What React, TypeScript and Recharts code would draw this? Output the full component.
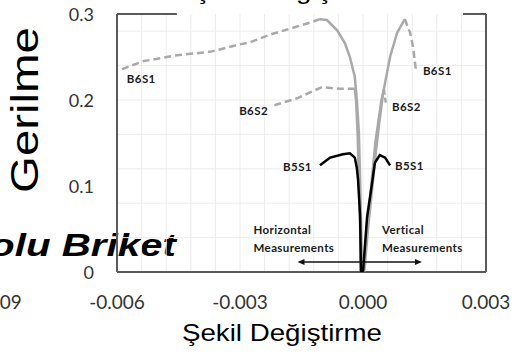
import React from "react";
import {
  ComposedChart,
  Line,
  XAxis,
  YAxis,
  ReferenceLine,
  ReferenceDot,
  Customized,
} from "recharts";

// ---- tick values / labels ----
const xTicks = [-0.009, -0.006, -0.003, 0, 0.003];
const xTickLabels = ["-0.009", "-0.006", "-0.003", "0.000", "0.003"];
const yTicks = [0, 0.1, 0.2, 0.3];
const yTickLabels = ["0", "0.1", "0.2", "0.3"];
const innerGridX = [-0.0054, -0.0048, -0.0042, -0.0036, -0.003, -0.0024, -0.0018, -0.0012, -0.0006, 0, 0.0006, 0.0012, 0.0018, 0.0024];
const innerGridY = [0.04, 0.08, 0.12, 0.16, 0.2, 0.24, 0.28];

// ---- series (strain, stress) ----
const b6s1LeftSolidX = [-0.00002, -0.00005, -0.00007, -0.0001, -0.00015, -0.0002, -0.00032, -0.00044, -0.00063, -0.00088, -0.00105];
const b6s1LeftSolidY = [0, 0.06, 0.107, 0.162, 0.2, 0.227, 0.25, 0.266, 0.281, 0.293, 0.294];
const b6s1LeftDashX = [-0.00105, -0.00129, -0.00178, -0.00227, -0.00276, -0.00307, -0.00373, -0.00454, -0.00537, -0.00593];
const b6s1LeftDashY = [0.294, 0.29, 0.283, 0.276, 0.267, 0.264, 0.256, 0.252, 0.245, 0.235];

const b6s1RightSolidX = [0.00003, 0.00012, 0.00022, 0.00032, 0.00039, 0.00049, 0.00066, 0.00083, 0.00102];
const b6s1RightSolidY = [0, 0.049, 0.095, 0.142, 0.171, 0.208, 0.25, 0.278, 0.294];
const b6s1RightDashX = [0.00102, 0.00115, 0.00122, 0.00129];
const b6s1RightDashY = [0.294, 0.278, 0.262, 0.235];

const b6s2LeftSolidX = [-0.00005, -0.00007, -0.0001, -0.00013, -0.00017, -0.0002];
const b6s2LeftSolidY = [0, 0.05, 0.107, 0.16, 0.2, 0.213];
const b6s2LeftDashX = [-0.0002, -0.00056, -0.001, -0.00161, -0.00222];
const b6s2LeftDashY = [0.213, 0.213, 0.215, 0.202, 0.193];

const b6s2RightSolidX = [0.00001, 0.0001, 0.0002, 0.0003, 0.00045, 0.00051];
const b6s2RightSolidY = [0, 0.05, 0.1, 0.15, 0.2, 0.212];
const b6s2RightDashX = [0.00051, 0.00056];
const b6s2RightDashY = [0.212, 0.195];

const b5s1LeftX = [-0.00005, -0.00007, -0.00012, -0.00015, -0.0002, -0.00032, -0.00049, -0.0008, -0.00105];
const b5s1LeftY = [0, 0.064, 0.107, 0.121, 0.133, 0.138, 0.137, 0.133, 0.124];
const b5s1RightX = [0, 0.0001, 0.00022, 0.00029, 0.00041, 0.00054, 0.00066];
const b5s1RightY = [0, 0.064, 0.103, 0.127, 0.136, 0.133, 0.124];

const arrowX = [-0.0015, 0.00134];
const arrowY = [0.0116, 0.0116];

const zip = (xs: number[], ys: number[]) => xs.map((x, i) => ({ x, y: ys[i] }));
const last = (a: number[]) => a[a.length - 1];

const GRAY = "#a9a9a9";
const FRAME = "#5a5a5a";
const SHIFT = 120; // chart svg starts this many px left of the page edge
const LBL = { fontFamily: "Lato, 'Open Sans', sans-serif", fontWeight: 700, fontSize: 11.5, fill: "#1a1a1a", letterSpacing: 0.4 } as const;

const dotLabel = (text: string, dx: number, dy: number, anchor: "start" | "end" = "start") =>
  (p: any) => (
    <text x={p.cx + dx} y={p.cy + dy} textAnchor={anchor} {...LBL}>
      {text}
    </text>
  );

const ArrowDot = (p: any) => {
  const { cx, cy, index } = p;
  const d = index === 0 ? -1 : 1;
  return <path key={index} d={`M${cx + d * 4},${cy} L${cx - d * 3},${cy - 3} L${cx - d * 3},${cy + 3} Z`} fill="#111" />;
};

const SANS = "'Liberation Sans', Arial, sans-serif";

const Texts = () => (
  <g>
    <text x={293 + SHIFT} y={-1} textAnchor="middle" fontFamily={SANS} fontSize={24} textLength={200} lengthAdjust="spacingAndGlyphs" fill="#000">
      Şekil Değiştirme
    </text>
    <text x={282 + SHIFT} y={341} textAnchor="middle" fontFamily={SANS} fontSize={24} textLength={200} lengthAdjust="spacingAndGlyphs" fill="#000">
      Şekil Değiştirme
    </text>
    <text x={38 + SHIFT} y={110} transform={`rotate(-90 ${38 + SHIFT} 110)`} textAnchor="middle" fontFamily={SANS} fontSize={39} textLength={166} lengthAdjust="spacingAndGlyphs" fill="#000">
      Gerilme
    </text>
    <text x={0} y={0} transform={`translate(${-39 + SHIFT} 256) scale(1.26 1)`} textAnchor="start" fontFamily={SANS} fontWeight={700} fontStyle="italic" fontSize={32} fill="#000">
      Dolu Briket
    </text>
  </g>
);

export default function App() {
  const lineProps = { dataKey: "y", dot: false, activeDot: false, isAnimationActive: false, type: "linear" as const };
  return (
    <div style={{ position: "absolute", left: -SHIFT, top: 0, width: 514 + SHIFT, height: 355, background: "#fff" }}>
      <ComposedChart width={514 + SHIFT} height={355} margin={{ top: 14, right: 28, bottom: 53, left: 14 }}>
        <XAxis
          type="number"
          dataKey="x"
          domain={[-0.009, 0.003]}
          ticks={xTicks}
          allowDataOverflow
          axisLine={false}
          tickLine={false}
          height={30}
          interval={0}
          tick={(p: any) => (
            <text x={p.x} y={309} textAnchor="middle" fontFamily="Lato, 'Open Sans', sans-serif" fontSize={19} fill="#333">
              {xTickLabels[xTicks.indexOf(p.payload.value)]}
            </text>
          )}
        />
        <YAxis
          type="number"
          domain={[0, 0.3]}
          ticks={yTicks}
          width={100}
          axisLine={false}
          tickLine={false}
          interval={0}
          tick={(p: any) => (
            <text x={94 + SHIFT} y={p.y + 7} textAnchor="end" fontFamily="Lato, 'Open Sans', sans-serif" fontSize={18} fill="#333">
              {yTickLabels[yTicks.indexOf(p.payload.value)]}
            </text>
          )}
        />
        {innerGridX.map((v) => (
          <ReferenceLine key={"gx" + v} x={v} stroke="#ececec" strokeWidth={1} />
        ))}
        {innerGridY.map((v) => (
          <ReferenceLine key={"gy" + v} segment={[{ x: -0.006, y: v }, { x: 0.003, y: v }]} stroke="#ececec" strokeWidth={1} />
        ))}
        <ReferenceLine x={-0.006} stroke={FRAME} strokeWidth={2} />
        <ReferenceLine x={0.003} stroke={FRAME} strokeWidth={2} />
        <ReferenceLine segment={[{ x: -0.006, y: 0 }, { x: 0.003, y: 0 }]} stroke={FRAME} strokeWidth={2} />
        <ReferenceLine segment={[{ x: -0.006, y: 0.3 }, { x: -0.00454, y: 0.3 }]} stroke={FRAME} strokeWidth={2} />
        <ReferenceLine segment={[{ x: 0.00244, y: 0.3 }, { x: 0.003, y: 0.3 }]} stroke={FRAME} strokeWidth={2} />

        <Line {...lineProps} data={zip(b6s1LeftSolidX, b6s1LeftSolidY)} stroke={GRAY} strokeWidth={2.5} />
        <Line {...lineProps} data={zip(b6s1LeftDashX, b6s1LeftDashY)} stroke={GRAY} strokeWidth={2.5} strokeDasharray="7 4" />
        <Line {...lineProps} data={zip(b6s1RightSolidX, b6s1RightSolidY)} stroke={GRAY} strokeWidth={2.5} />
        <Line {...lineProps} data={zip(b6s1RightDashX, b6s1RightDashY)} stroke={GRAY} strokeWidth={2.5} strokeDasharray="7 4" />
        <Line {...lineProps} data={zip(b6s2LeftSolidX, b6s2LeftSolidY)} stroke={GRAY} strokeWidth={2.5} />
        <Line {...lineProps} data={zip(b6s2LeftDashX, b6s2LeftDashY)} stroke={GRAY} strokeWidth={2.5} strokeDasharray="7 4" />
        <Line {...lineProps} data={zip(b6s2RightSolidX, b6s2RightSolidY)} stroke={GRAY} strokeWidth={2.5} />
        <Line {...lineProps} data={zip(b6s2RightDashX, b6s2RightDashY)} stroke={GRAY} strokeWidth={2.5} strokeDasharray="5 3" />
        <Line {...lineProps} data={zip(b5s1LeftX, b5s1LeftY)} stroke="#000" strokeWidth={2.5} />
        <Line {...lineProps} data={zip(b5s1RightX, b5s1RightY)} stroke="#000" strokeWidth={2.5} />
        <Line {...lineProps} data={zip(arrowX, arrowY)} stroke="#111" strokeWidth={1.3} dot={ArrowDot} />

        <ReferenceDot x={last(b6s1LeftDashX)} y={last(b6s1LeftDashY)} r={0} shape={dotLabel("B6S1", 7, 13)} />
        <ReferenceDot x={last(b6s1RightDashX)} y={last(b6s1RightDashY)} r={0} shape={dotLabel("B6S1", 7, 5)} />
        <ReferenceDot x={last(b6s2LeftDashX)} y={last(b6s2LeftDashY)} r={0} shape={dotLabel("B6S2", -4, 9, "end")} />
        <ReferenceDot x={last(b6s2RightDashX)} y={last(b6s2RightDashY)} r={0} shape={dotLabel("B6S2", 6, 7)} />
        <ReferenceDot x={last(b5s1LeftX)} y={last(b5s1LeftY)} r={0} shape={dotLabel("B5S1", -8, 6, "end")} />
        <ReferenceDot x={last(b5s1RightX)} y={last(b5s1RightY)} r={0} shape={dotLabel("B5S1", 5, 5)} />
        <ReferenceDot x={arrowX[0]} y={arrowY[0]} r={0} shape={dotLabel("Horizontal", -48, -28)} />
        <ReferenceDot x={arrowX[0]} y={arrowY[0]} r={0} shape={dotLabel("Measurements", -48, -10)} />
        <ReferenceDot x={arrowX[1]} y={arrowY[1]} r={0} shape={dotLabel("Vertical", -36, -28)} />
        <ReferenceDot x={arrowX[1]} y={arrowY[1]} r={0} shape={dotLabel("Measurements", -36, -10)} />
        <Customized component={Texts} />
      </ComposedChart>
    </div>
  );
}
